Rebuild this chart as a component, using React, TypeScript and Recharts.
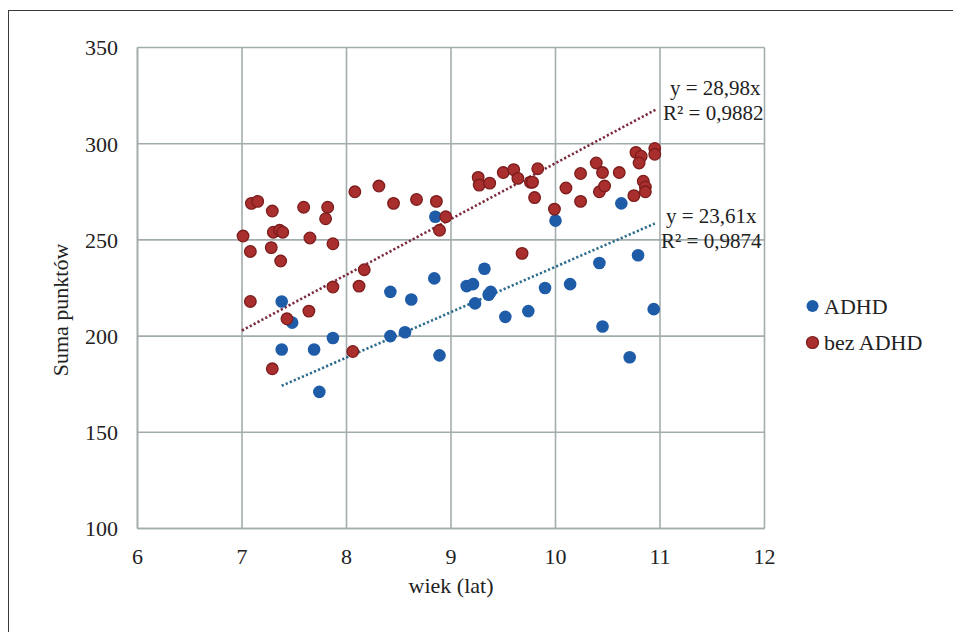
import { ScatterChart, Scatter, XAxis, YAxis, CartesianGrid, ReferenceLine, Legend, Label } from 'recharts';

// wiek (lat) / suma punktów – ADHD
const adhdAge = [7.38, 7.48, 7.38, 7.69, 7.74, 7.87, 8.42, 8.62, 8.42, 8.56, 8.84, 8.85, 8.89, 9.15, 9.21, 9.23, 9.32, 9.36, 9.38, 9.52, 9.74, 9.9, 10.0, 10.14, 10.42, 10.45, 10.63, 10.71, 10.79, 10.94];
const adhdScore = [218, 207, 193, 193, 171, 199, 223, 219, 200, 202, 230, 262, 190, 226, 227, 217, 235, 221.5, 223, 210, 213, 225, 260, 227, 238, 205, 269, 189, 242, 214];

// bez ADHD
const bezAge = [
  7.01, 7.09, 7.15, 7.08, 7.08, 7.29, 7.3, 7.36, 7.39, 7.28, 7.37, 7.29, 7.43, 7.59, 7.65, 7.64, 7.82, 7.8, 7.87, 7.87,
  8.06, 8.08, 8.12, 8.17, 8.31, 8.45, 8.67, 8.86, 8.95, 8.89, 9.26, 9.27, 9.37, 9.68, 9.5, 9.6, 9.64, 9.76, 9.78, 9.83,
  9.8, 9.99, 10.1, 10.24, 10.24, 10.39, 10.45, 10.42, 10.47, 10.61, 10.75, 10.77, 10.82, 10.8, 10.95, 10.95, 10.84, 10.86, 10.86,
];
const bezScore = [
  252, 269, 270, 244, 218, 265, 254, 255, 254, 246, 239, 183, 209, 267, 251, 213, 267, 261, 248, 225.5,
  192, 275, 226, 234.5, 278, 269, 271, 270, 262, 255, 282.5, 278.5, 279.5, 243, 285, 286.5, 282, 280, 280, 287,
  272, 266, 277, 284.5, 270, 290, 285, 275, 278, 285, 273, 295.5, 293.5, 290, 297.5, 294.5, 280.5, 277.5, 275,
];

// linie trendu (początek i koniec)
const adhdTrend = [{ x: 7.38, y: 174.2 }, { x: 10.95, y: 258.5 }];
const bezTrend = [{ x: 7.0, y: 202.9 }, { x: 10.97, y: 318 }];

const xTicks = [6, 7, 8, 9, 10, 11, 12];
const yTicks = [100, 150, 200, 250, 300, 350];

const adhdData = adhdAge.map((x, i) => ({ x, y: adhdScore[i] }));
const bezData = bezAge.map((x, i) => ({ x, y: bezScore[i] }));

const FONT = '"Liberation Serif", "Times New Roman", serif';
const GRID = '#a3adad';
const BLUE = '#1f5ca8';
const RED = '#a92f2e';

const blueDot = (p: any) => <circle cx={p.cx} cy={p.cy} r={6.3} fill={BLUE} />;
const redDot = (p: any) => <circle cx={p.cx} cy={p.cy} r={5.8} fill={RED} stroke="#7c1c1c" strokeWidth={1.3} />;

const note = (lines: { x: number; y: number; t: string }[]) => () => (
  <g>
    {lines.map((l, i) => (
      <text key={i} x={l.x} y={l.y} fontFamily={FONT} fontSize={21} fill="#222">{l.t}</text>
    ))}
  </g>
);

function LegendBox() {
  return (
    <svg width={150} height={70}>
      <circle cx={12.5} cy={16} r={6} fill={BLUE} />
      <text x={24} y={23.5} fontFamily={FONT} fontSize={22} fill="#222">ADHD</text>
      <circle cx={12.5} cy={52.5} r={6} fill={RED} stroke="#7c1c1c" strokeWidth={1.2} />
      <text x={24} y={60} fontFamily={FONT} fontSize={22} fill="#222">bez ADHD</text>
    </svg>
  );
}

export default function App() {
  const tick = { fill: '#222', fontSize: 22, fontFamily: FONT };
  return (
    <div style={{ position: 'absolute', left: 0, top: 0, width: 953, height: 632, background: '#fff', overflow: 'hidden' }}>
      <div style={{ position: 'absolute', left: 8, top: 10, width: 980, height: 660, border: '1.5px solid #3a3a3a' }} />
      <ScatterChart width={953} height={632} margin={{ top: 47.5, right: 188.5, bottom: 0, left: 0 }}>
        <CartesianGrid stroke={GRID} strokeWidth={1.6} horizontalValues={yTicks} verticalValues={xTicks} />
        <XAxis
          type="number"
          dataKey="x"
          domain={[6, 12]}
          ticks={xTicks}
          height={103.5}
          tick={tick}
          tickLine={false}
          tickSize={17.5}
          tickMargin={2}
          axisLine={{ stroke: GRID, strokeWidth: 1.6 }}
        >
          <Label content={() => <text x={451} y={593} textAnchor="middle" fontFamily={FONT} fontSize={22} fill="#222">wiek (lat)</text>} />
        </XAxis>
        <YAxis
          type="number"
          dataKey="y"
          domain={[100, 350]}
          ticks={yTicks}
          width={137.5}
          tick={tick}
          tickLine={false}
          tickSize={17.5}
          tickMargin={2}
          axisLine={{ stroke: GRID, strokeWidth: 1.6 }}
        >
          <Label
            content={() => (
              <text x={68} y={310} transform="rotate(-90 68 310)" textAnchor="middle" fontFamily={FONT} fontSize={22} fill="#222">
                Suma punktów
              </text>
            )}
          />
        </YAxis>
        <ReferenceLine
          segment={bezTrend}
          stroke="#7a2b3c"
          strokeWidth={2.6}
          strokeDasharray="2.2 2.2"
          ifOverflow="visible"
          label={note([
            { x: 670, y: 95, t: 'y = 28,98x' },
            { x: 663, y: 120, t: 'R² = 0,9882' },
          ])}
        />
        <ReferenceLine
          segment={adhdTrend}
          stroke="#2b6b8c"
          strokeWidth={2.6}
          strokeDasharray="2.2 2.2"
          ifOverflow="visible"
          label={note([
            { x: 666, y: 222.5, t: 'y = 23,61x' },
            { x: 661, y: 247.5, t: 'R² = 0,9874' },
          ])}
        />
        <Scatter name="ADHD" data={adhdData} fill={BLUE} shape={blueDot} isAnimationActive={false} />
        <Scatter name="bez ADHD" data={bezData} fill={RED} shape={redDot} isAnimationActive={false} />
        <Legend
          layout="vertical"
          align="center"
          verticalAlign="middle"
          width={150}
          wrapperStyle={{ left: 800, top: 290, width: 150 }}
          content={() => <LegendBox />}
        />
      </ScatterChart>
    </div>
  );
}
